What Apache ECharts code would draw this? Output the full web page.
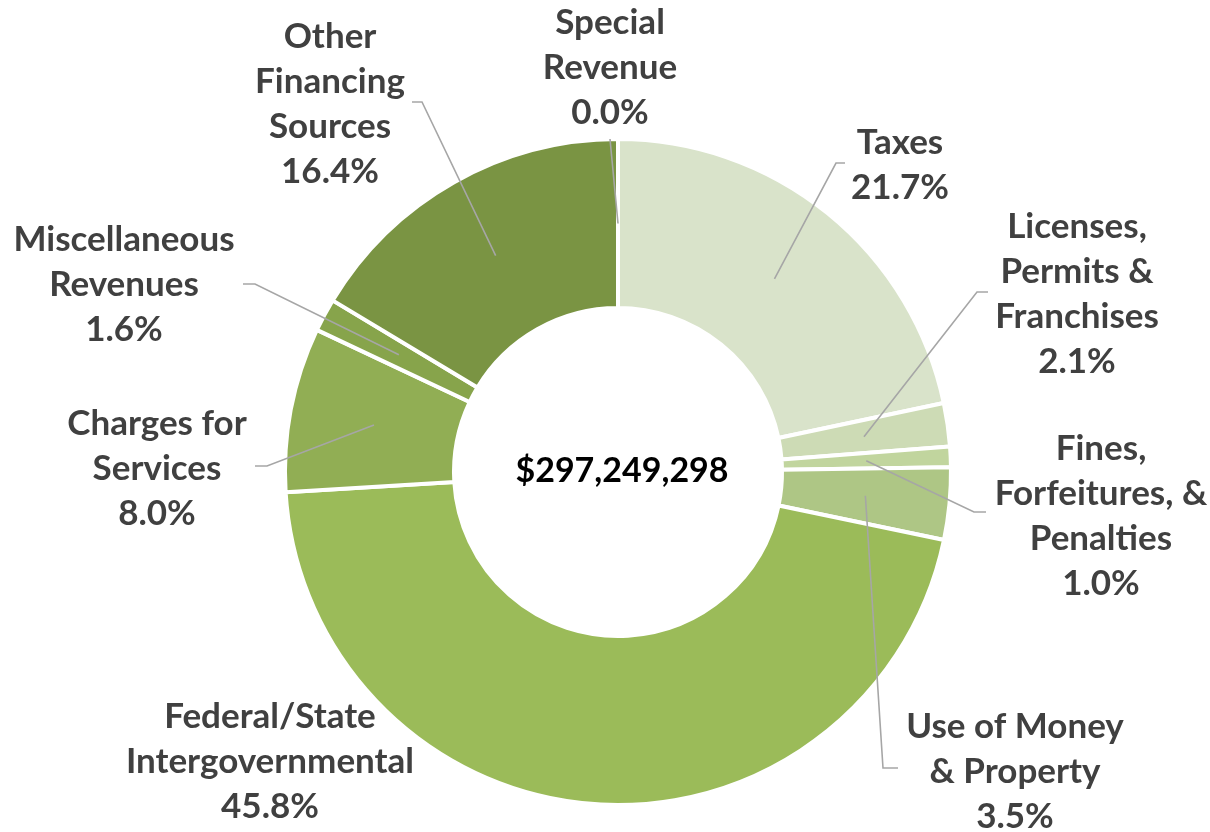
<!DOCTYPE html>
<html>
<head>
<meta charset="utf-8">
<script src="https://cdn.jsdelivr.net/npm/echarts@6/dist/echarts.min.js"></script>
<style>
  html, body { margin: 0; padding: 0; background: #fff; }
  #chart { width: 1210px; height: 832px; }
</style>
</head>
<body>
<div id="chart"></div>
<script>
// Revenue sources, share of total (%)
const categories = [
  'Taxes',
  'Licenses,\nPermits &\nFranchises',
  'Fines,\nForfeitures, &\nPenalties',
  'Use of Money\n& Property',
  'Federal/State\nIntergovernmental',
  'Charges for\nServices',
  'Miscellaneous\nRevenues',
  'Other\nFinancing\nSources',
  'Special\nRevenue'
];
const shares = [21.7, 2.1, 1.0, 3.5, 45.8, 8.0, 1.6, 16.4, 0.0];
const totalRevenue = '$297,249,298';

const sliceColors = ['#d9e3ca', '#cddbb5', '#c1d59e', '#aec685', '#9bbb59',
                     '#91ae54', '#87a44b', '#7a9443', '#6e8a3a'];

// Label placement: text-block centre and leader-line elbow/end points
const labelCentres = [[900, 165], [1077, 294], [1101, 516], [1015, 772], [270, 762],
                      [157, 469], [124, 285], [330, 104], [610, 68]];
const leaderEnds = [
  [[836, 163], [845, 163]],
  [[977, 292], [988, 292]],
  [[974, 512], [986, 512]],
  [[883, 768], [898, 768]],
  null,
  [[267, 466], [255, 466]],
  [[255, 284], [243, 284]],
  [[422, 102], [412, 102]],
  [[610, 139], [610, 139]]
];

const CX = 618, CY = 472;
const RADIUS = [164, 333];
const chart = echarts.init(document.getElementById('chart'), null, { renderer: 'canvas' });

// middle of the ring at the slice's mid angle, taken from the pie layout
function sliceMidPoint(idx) {
  const lay = chart.getModel().getSeriesByIndex(0).getData().getItemLayout(idx);
  const a = (lay.startAngle + lay.endAngle) / 2;
  const r = (lay.r0 + lay.r) / 2;
  return [lay.cx + r * Math.cos(a), lay.cy + r * Math.sin(a)];
}

const labelFont = {
  fontFamily: 'Lato, "Liberation Sans", sans-serif',
  fontWeight: 'bold',
  fontSize: 35,
  lineHeight: 45,
  color: '#404040'
};

const pieData = categories.map((name, i) => ({ name: name, value: shares[i] }));

chart.setOption({
  animation: false,
  backgroundColor: '#ffffff',
  graphic: [{
    type: 'text',
    x: 622,
    y: CY - 1,
    z: 100,
    style: {
      text: totalRevenue,
      align: 'center',
      verticalAlign: 'middle',
      fill: '#000000',
      font: 'bold 34px Lato, "Liberation Sans", sans-serif'
    }
  }],
  series: [
    // the coloured ring
    {
      type: 'pie',
      z: 2,
      center: [CX, CY],
      radius: RADIUS,
      startAngle: 90,
      clockwise: true,
      silent: true,
      itemStyle: { borderColor: '#ffffff', borderWidth: 4 },
      label: { show: false },
      labelLine: { show: false },
      data: pieData.map((d, i) => Object.assign({ itemStyle: { color: sliceColors[i] } }, d))
    },
    // labels and leader lines, drawn above the ring
    {
      type: 'pie',
      z: 5,
      center: [CX, CY],
      radius: RADIUS,
      startAngle: 90,
      clockwise: true,
      silent: true,
      avoidLabelOverlap: false,
      itemStyle: { color: 'rgba(0,0,0,0)', borderWidth: 0 },
      label: Object.assign({
        show: true,
        position: 'outside',
        align: 'center',
        formatter: p => p.name + '\n' + p.value.toFixed(1) + '%'
      }, labelFont),
      labelLine: {
        show: true,
        length: 10,
        length2: 10,
        smooth: false,
        lineStyle: { color: '#a6a6a6', width: 1.6 }
      },
      labelLayout: function (params) {
        const i = params.dataIndex;
        const c = labelCentres[i];
        const out = { x: c[0], y: c[1], align: 'center', verticalAlign: 'middle' };
        if (leaderEnds[i]) {
          out.labelLinePoints = [sliceMidPoint(i), leaderEnds[i][0], leaderEnds[i][1]];
        }
        return out;
      },
      data: pieData.map((d, i) => Object.assign({ labelLine: { show: leaderEnds[i] !== null } }, d))
    }
  ]
});
</script>
</body>
</html>
